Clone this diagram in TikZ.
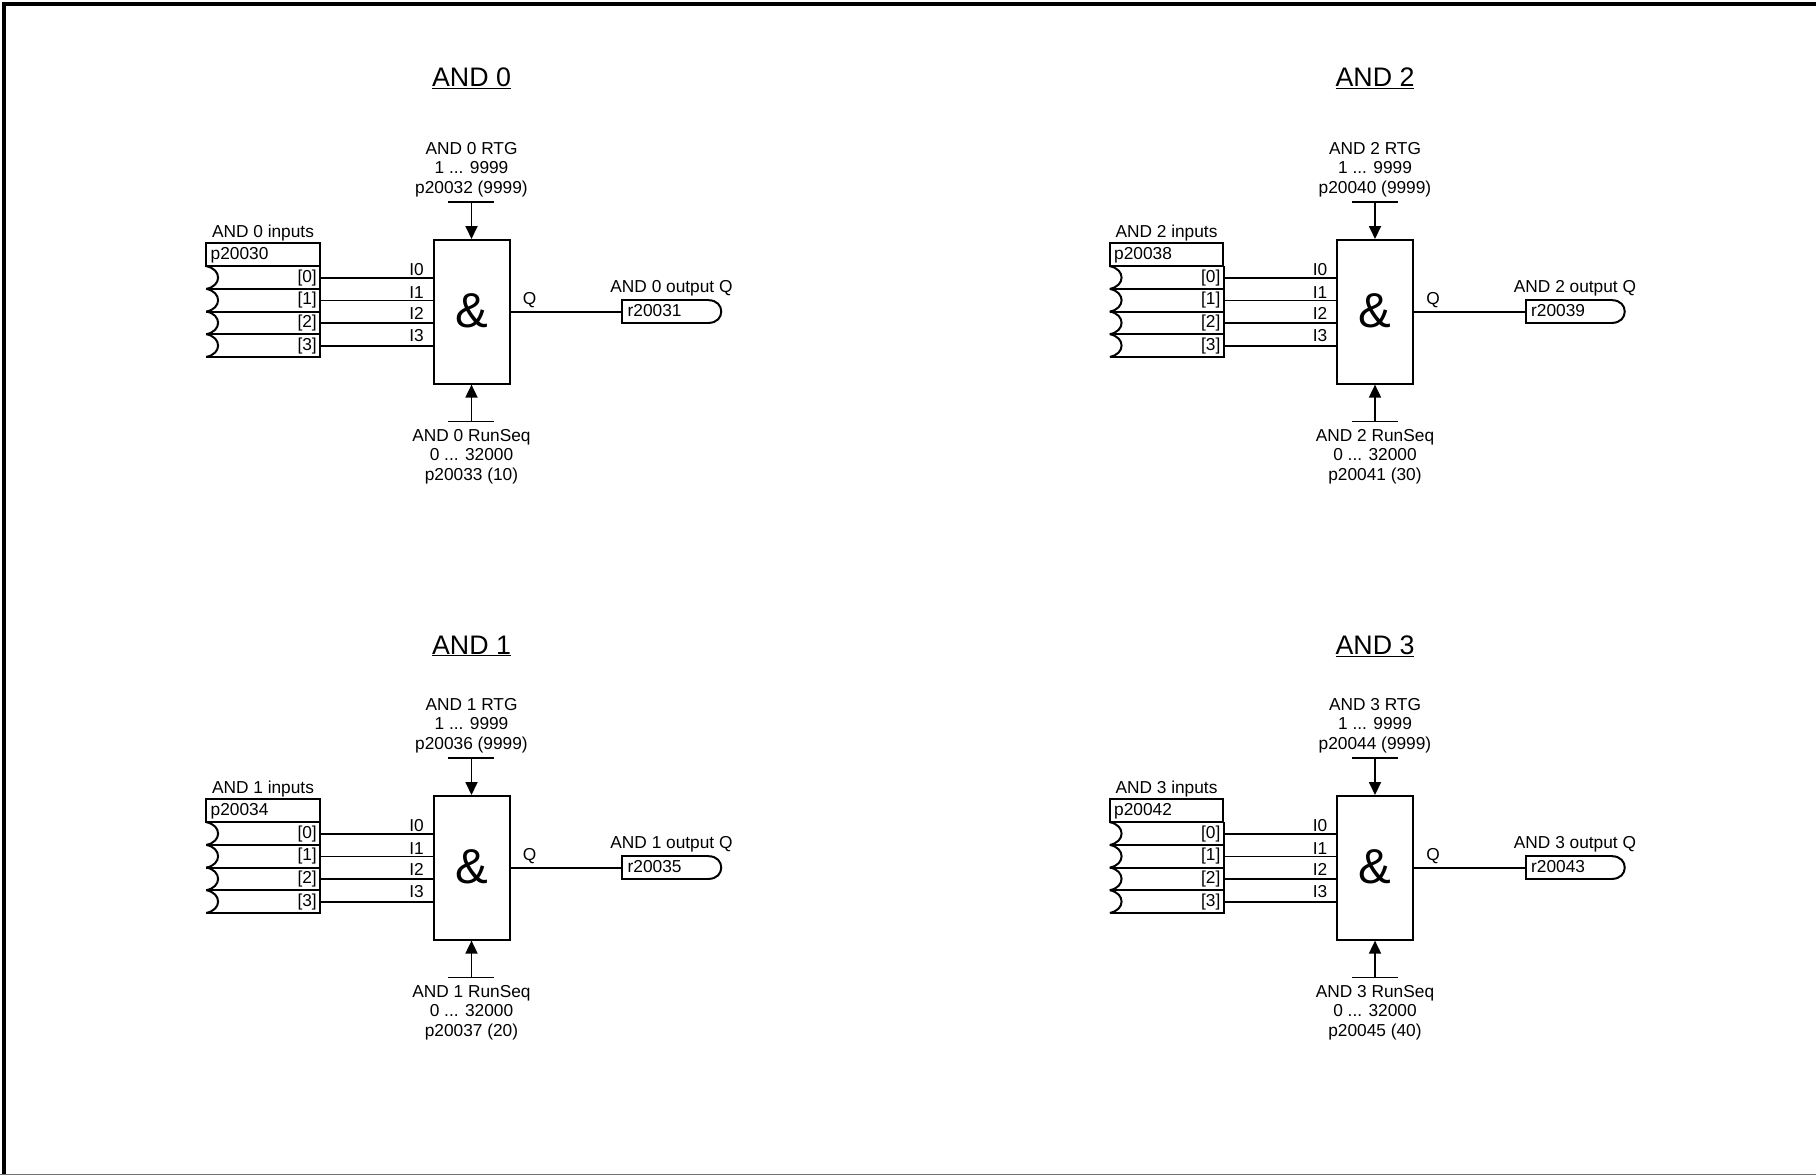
\documentclass[tikz,border=0pt]{standalone}
\usepackage{fontspec}
\setmainfont{Liberation Sans}
\usetikzlibrary{arrows.meta}
\newcommand{\lbl}{\fontsize{17.3}{19.4}\selectfont}
\tikzset{x=1pt,y=-1pt,
 wire/.style={line width=1.8pt},
 boxl/.style={line width=2pt},
 txt/.style={inner sep=0pt,font=\lbl,align=center},
 inlbl/.style={txt,anchor=east},
 pin/.style={wire,-{Triangle[length=13pt,width=12pt]}}}
\newcommand{\andblock}[9]{%
% #1 dx #2 dy #3 index #4 inputs #5 output #6 rtg #7 runseq #8 default #9 title y
\begin{scope}[shift={(#1,#2)}]
 \node[txt,font=\fontsize{26.8}{30}\selectfont] (title#3) at (471.5,#9) {\underline{AND #3}};
 \node[draw,boxl,minimum width=76pt,minimum height=143.6pt,inner sep=0pt] (gate#3) at (471.5,311.8) {};
 \node[inner sep=0pt,font=\fontsize{49}{49}\selectfont] (amp#3) at (471.5,311) {\&};
 \coordinate (rtgl#3) at (448.3,201.9); \coordinate (rtgr#3) at (494.3,201.9); \coordinate (rtg#3) at (471.5,201.9);
 \coordinate (seql#3) at (448.3,421.4); \coordinate (seqr#3) at (494.3,421.4); \coordinate (seq#3) at (471.5,421.4);
 \draw[wire] (rtgl#3) -- (rtgr#3);
 \draw[wire] (seql#3) -- (seqr#3);
 \draw[pin] (rtg#3) -- (gate#3.north);
 \draw[pin] (seq#3) -- (gate#3.south);
 \node[txt] (rtgt#3) at (471.5,169.5) {AND #3 RTG\\1 ... 9999\\p#6 (9999)};
 \node[txt] (seqt#3) at (471.5,456.5) {AND #3 RunSeq\\0 ... 32000\\p#7 (#8)};
 \node[txt] (int#3) at (263,233.3) {AND #3 inputs};
 \node[draw,boxl,minimum width=113.7pt,minimum height=22.7pt,inner sep=0pt] (par#3) at (263.1,254.8) {};
 \node[txt,anchor=west] (part#3) at (210.5,255) {p#4};
 % indexed input rows
 \foreach \i/\yt/\yl in {0/266.2/269.3,1/288.9/293,2/311.5/313.6,3/334.2/335.6}{
   \coordinate (rowa#3\i) at (206.3,\yt);
   \coordinate (rowb#3\i) at (206.3,\yt+22.7);
   \coordinate (rowc#3\i) at (320,\yt+22.7);
   \coordinate (rowd#3\i) at (320,\yt);
   \draw[boxl] (rowa#3\i) .. controls (222,\yt+3) and (222,\yt+19.7) .. (rowb#3\i);
   \draw[boxl] (rowb#3\i) -- (rowc#3\i) -- (rowd#3\i);
   \coordinate (wire#3\i) at (320,\yt+11.5);
   \node[inlbl] (idx#3\i) at (317,\yt+11.6) {[\i]};
   \coordinate (gin#3\i) at (gate#3.west|-wire#3\i);
   \draw[wire] (wire#3\i) -- (gin#3\i);
   \node[txt] (il#3\i) at (416.5,\yl) {I\i};
 }
 % output
 \coordinate (qa#3) at (622.3,311.6);
 \draw[wire] (gate#3.east|-qa#3) -- (qa#3);
 \node[txt] (qt#3) at (529.5,300.5) {Q};
 \node[txt] (ott#3) at (671.5,288.3) {AND #3 output Q};
 \coordinate (oa#3) at (622.3,300.2); \coordinate (ob#3) at (622.3,322.9);
 \draw[boxl,line join=miter] (709,300.2) -- (oa#3) -- (ob#3) -- (709,322.9);
 \draw[boxl] (708.5,300.2) .. controls (725.5,300.2) and (725.5,322.9) .. (708.5,322.9);
 \node[txt,anchor=west] (ot#3) at (627.5,310.5) {r#5};
\end{scope}}
\begin{document}
\begin{tikzpicture}
\useasboundingbox (0,0) rectangle (1816,1175);
\fill[white] (0,0) rectangle (1816,1175);
\draw[line width=3.5pt] (3.8,1176) -- (3.8,3.8) -- (1817,3.8);
\draw[line width=1pt,black!55] (0,1174.5) -- (1816,1174.5);
\andblock{0}{0}{0}{20030}{20031}{20032}{20033}{10}{78}
\andblock{0}{556}{1}{20034}{20035}{20036}{20037}{20}{90}
\andblock{903.5}{0}{2}{20038}{20039}{20040}{20041}{30}{78}
\andblock{903.5}{556}{3}{20042}{20043}{20044}{20045}{40}{90}
\end{tikzpicture}
\end{document}
